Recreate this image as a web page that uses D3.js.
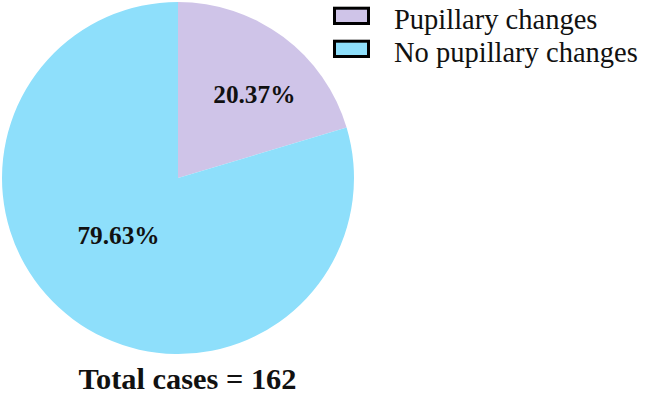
<!DOCTYPE html>
<html><head><meta charset="utf-8">
<script src="https://cdn.jsdelivr.net/npm/d3@7"></script>
<style>html,body{margin:0;padding:0;background:#fff;}svg{display:block;}</style>
</head><body>
<svg id="chart" width="646" height="395"></svg>
<script>
const categories = ["Pupillary changes", "No pupillary changes"];
const values = [20.37, 79.63];
const colors = ["#CFC4E8", "#8EDFFB"];
const totalCases = 162;

const FONT = "'Times New Roman', Tinos, 'Liberation Serif', 'DejaVu Serif', serif";
const svg = d3.select("#chart");
const cx = 178, cy = 178, R = 176;

const pie = d3.pie().sort(null).value(d => d)(values);
const arc = d3.arc().innerRadius(0).outerRadius(R);

const g = svg.append("g").attr("transform", `translate(${cx},${cy})`);
g.selectAll("path").data(pie).join("path")
  .attr("d", arc)
  .attr("fill", (d, i) => colors[i]);

const labelR = [0.645, 0.468];
const labelNudge = [0.098, 0.167];
g.selectAll("text.lbl").data(pie).join("text")
  .attr("class", "lbl")
  .each(function(d, i) {
    const a = (d.startAngle + d.endAngle) / 2 + labelNudge[i];
    const r = R * labelR[i];
    d3.select(this)
      .attr("x", r * Math.sin(a))
      .attr("y", -r * Math.cos(a))
      .attr("dy", "0.35em");
  })
  .attr("text-anchor", "middle")
  .style("font-family", FONT)
  .attr("font-weight", "bold")
  .attr("font-size", 25.3)
  .attr("fill", "#111")
  .text(d => d.data.toFixed(2) + "%");

svg.append("text")
  .attr("x", 187.5).attr("y", 389)
  .attr("text-anchor", "middle")
  .style("font-family", FONT)
  .attr("font-weight", "bold")
  .attr("font-size", 30.4)
  .attr("fill", "#111")
  .text("Total cases = " + totalCases);

const leg = svg.append("g");
const legItems = leg.selectAll("g").data(categories).join("g")
  .attr("transform", (d, i) => `translate(0,${i * 33})`);
legItems.append("rect")
  .attr("x", 334.5).attr("y", 8.2).attr("width", 34).attr("height", 15.3)
  .attr("fill", (d, i) => colors[i])
  .attr("stroke", "#000").attr("stroke-width", 3);
legItems.append("text")
  .attr("x", 394).attr("y", 29)
  .style("font-family", FONT)
  .attr("font-size", 28.5)
  .attr("fill", "#111")
  .text(d => d);
</script>
</body></html>
